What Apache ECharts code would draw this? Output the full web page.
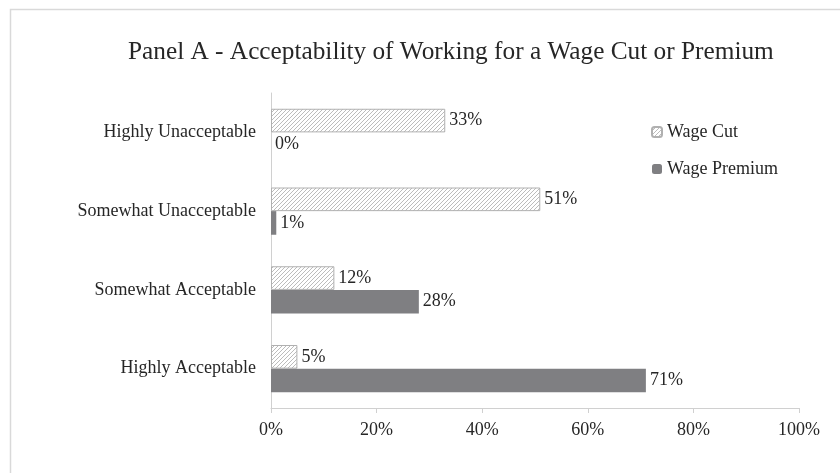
<!DOCTYPE html>
<html><head><meta charset="utf-8">
<script src="https://cdn.jsdelivr.net/npm/echarts@6/dist/echarts.min.js"></script>
<style>html,body{margin:0;padding:0;background:#fff}#c{width:840px;height:473px}</style>
</head><body><div id="c"></div>
<script>
const categories = ['Highly Unacceptable', 'Somewhat Unacceptable', 'Somewhat Acceptable', 'Highly Acceptable'];
const wageCut = [33, 51, 12, 5];
const wagePremium = [0, 1, 28, 71];
const xTicks = [0, 20, 40, 60, 80, 100];

const pc = document.createElement('canvas');
pc.width = 4; pc.height = 4;
const g = pc.getContext('2d');
g.fillStyle = '#ffffff'; g.fillRect(0,0,4,4);
g.strokeStyle = '#bcbcbc'; g.lineWidth = 1;
g.beginPath();
g.moveTo(-1,5); g.lineTo(5,-1);
g.moveTo(-1,1); g.lineTo(1,-1);
g.moveTo(3,5); g.lineTo(5,3);
g.stroke();

const font = '"Liberation Serif", "Times New Roman", serif';
const chart = echarts.init(document.getElementById('c'));
chart.setOption({
  animation: false,
  textStyle: {fontFamily: font, color: '#262626'},
  graphic: [{type: 'rect', shape: {x: 10.5, y: 9.5, width: 900, height: 600}, style: {fill: 'none', stroke: '#d9d9d9', lineWidth: 1.5}}],
  title: {text: 'Panel A - Acceptability of Working for a Wage Cut or Premium', left: 123, top: 35,
    textStyle: {fontFamily: font, fontSize: 25.3, fontWeight: 'normal', color: '#262626'}},
  legend: {orient: 'vertical', left: 646, top: 118, itemWidth: 10, itemHeight: 10, itemGap: 19,
    data: ['Wage Cut', 'Wage Premium'],
    textStyle: {fontFamily: font, fontSize: 18, color: '#262626'}},
  grid: {left: 271, right: 41, top: 93, bottom: 65},
  xAxis: {type: 'value', min: 0, max: 100, interval: 20,
    axisLine: {show: true, lineStyle: {color: '#d0d0d0'}},
    axisTick: {show: true, length: 5, lineStyle: {color: '#d0d0d0'}},
    splitLine: {show: false},
    axisLabel: {margin: 13, fontFamily: font, fontSize: 18, color: '#262626', formatter: v => xTicks.includes(v) ? v + '%' : ''}},
  yAxis: {type: 'category', data: categories, inverse: true,
    axisLine: {lineStyle: {color: '#d0d0d0'}},
    axisTick: {length: 5, lineStyle: {color: '#d0d0d0'}},
    axisLabel: {margin: 15, fontFamily: font, fontSize: 18, color: '#262626'}},
  series: [
    {name: 'Wage Cut', type: 'bar', data: wageCut, barGap: '0%', barCategoryGap: '40%',
      itemStyle: {color: {image: pc, repeat: 'repeat'}, borderColor: '#b0b0b0', borderWidth: 1},
      label: {show: true, position: 'right', distance: 4, formatter: '{c}%', fontFamily: font, fontSize: 18, color: '#262626'}},
    {name: 'Wage Premium', type: 'bar', data: wagePremium,
      itemStyle: {color: '#7f7f82'},
      label: {show: true, position: 'right', distance: 4, formatter: '{c}%', fontFamily: font, fontSize: 18, color: '#262626'}}
  ]
});
</script></body></html>
